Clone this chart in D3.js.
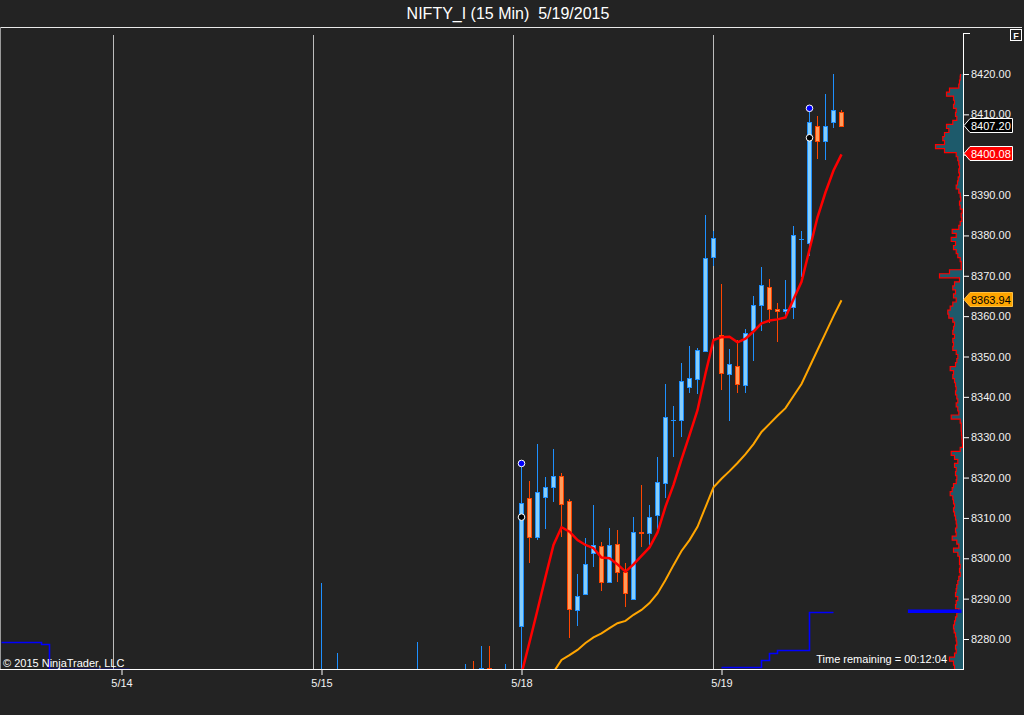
<!DOCTYPE html>
<html><head><meta charset="utf-8">
<script src="https://cdn.jsdelivr.net/npm/d3@7/dist/d3.min.js"></script>
<style>
body{margin:0;background:#232323;overflow:hidden}
svg{display:block}
text{font-family:"Liberation Sans",Arial,sans-serif}
</style></head>
<body><svg id="c" width="1024" height="715"></svg>
<script>
// ---------------- DATA ----------------
const chartTitle = "NIFTY_I (15 Min)  5/19/2015";
const dayLabels = ["5/14", "5/15", "5/18", "5/19"];
const dayStartIndex = [15, 40, 65, 90];
const sessionBreakIndex = [14, 39, 64, 89];
const yTickValues = [8280, 8290, 8300, 8310, 8320, 8330, 8340, 8350, 8360, 8370, 8380, 8390, 8400, 8410, 8420];

// bars (15 min), index = bar slot from left edge
const barIndex = [40, 42, 52, 58, 59, 60, 61, 63,
  65, 66, 67, 68, 69, 70, 71, 72, 73, 74, 75, 76, 77, 78, 79, 80, 81, 82, 83, 84, 85, 86, 87, 88, 89,
  90, 91, 92, 93, 94, 95, 96, 97, 98, 99, 100, 101, 102, 103, 104, 105];
const barOpen = [8255, 8262, 8264, 8266, 8271, 8266, 8272.8, 8265,
  8283.1, 8314.9, 8305.2, 8315.1, 8317.6, 8320.4, 8314.2, 8287.1, 8291.1, 8301.2, 8303.1, 8294.2, 8303.5, 8296.7, 8289.8, 8306.6, 8306.2, 8310.7, 8318.6, 8334.2, 8334.2, 8342.4, 8344.4, 8351.4, 8374.6,
  8355.3, 8345.6, 8347.7, 8342.9, 8356.6, 8362.7, 8367.2, 8361.7, 8361.2, 8362.2, 8379.2, 8378.1, 8407.1, 8403.5, 8408.0, 8410.7];
const barHigh = [8294.0, 8276.6, 8279.3, 8273.8, 8274.6, 8278.3, 8278.3, 8273.8,
  8323.5, 8319.2, 8328.3, 8320.2, 8327.1, 8321.2, 8314.6, 8296.1, 8305.0, 8313.2, 8304.1, 8307.4, 8307.0, 8298.9, 8310.2, 8318.2, 8313.2, 8325.0, 8343.2, 8337.7, 8348.4, 8352.6, 8352.1, 8385.1, 8381.2,
  8368.0, 8351.9, 8354.1, 8356.8, 8365.0, 8372.2, 8369.2, 8363.3, 8369.0, 8382.3, 8381.1, 8411.5, 8409.5, 8415.0, 8420.1, 8411.2];
const barLow = [8250, 8256, 8258, 8262, 8265, 8262, 8260, 8262,
  8268.0, 8298.8, 8304.5, 8307.2, 8314.0, 8305.2, 8280.2, 8283.1, 8291.0, 8297.9, 8292.0, 8294.0, 8294.2, 8287.9, 8289.6, 8302.7, 8303.3, 8307.2, 8315.0, 8325.0, 8330.1, 8340.9, 8340.6, 8351.0, 8372.5,
  8341.7, 8334.1, 8341.0, 8341.0, 8349.0, 8356.2, 8358.2, 8353.7, 8359.9, 8359.2, 8369.6, 8374.9, 8398.9, 8398.8, 8406.5, 8406.9];
const barClose = [8262, 8268, 8270, 8270, 8267, 8272.8, 8265, 8270,
  8313.6, 8305.2, 8316.4, 8317.6, 8320.4, 8313.4, 8287.4, 8290.7, 8298.5, 8303.2, 8294.2, 8303.2, 8296.5, 8291.5, 8306.6, 8306.2, 8310.3, 8319.0, 8335.1, 8334.2, 8343.9, 8344.6, 8351.5, 8374.3, 8379.3,
  8346.0, 8348.1, 8343.1, 8355.8, 8362.7, 8367.6, 8361.7, 8361.2, 8361.7, 8380.1, 8379.2, 8408.1, 8403.5, 8407.2, 8411.2, 8407.2];

// fast moving average (red)
const fastMAIndex = d3.range(65, 106);
const fastMA = [8271.4, 8279.2, 8287.2, 8295.4, 8303.3, 8307.7, 8306.6, 8304.5, 8303.3, 8302.5, 8300.2, 8300.0, 8298.5, 8296.7, 8298.5, 8300.6, 8302.7, 8306.4, 8312.8, 8318.2, 8324.5, 8330.5, 8336.7, 8345.8, 8354.1,
  8354.8, 8354.9, 8353.5, 8354.4, 8356.2, 8358.2, 8358.9, 8359.2, 8359.7, 8364.2, 8368.5, 8376.5, 8384.5, 8390.7, 8396.1, 8400.08];
// slow moving average (orange)
const slowMAIndex = d3.range(69, 106);
const slowMA = [8271.8, 8274.8, 8276.0, 8277.3, 8279.0, 8280.4, 8281.4, 8282.7, 8283.9, 8284.5, 8286.0, 8287.2, 8288.9, 8291.3, 8294.6, 8298.3, 8301.8, 8304.5, 8307.8, 8312.7, 8317.6,
  8319.7, 8321.6, 8323.6, 8325.8, 8328.3, 8331.3, 8333.3, 8335.3, 8337.2, 8340.2, 8343.2, 8347.4, 8351.6, 8355.8, 8360.0, 8363.94];

// blue step indicator
const stepLeft = [[0, 8279.3], [5, 8278.8], [6, 8272.6], [16, 8272.6]];
const stepRight = [[90, 8273.1], [95, 8274.8], [96, 8276.6], [97, 8277.2], [101, 8286.7], [104, 8286.7]];
const thickLine = [[113.3, 8286.9], [120, 8286.9]];

// swing markers
const blueDots = [[65, 8323.5], [101, 8411.5]];
const blackDots = [[65, 8310.2], [101, 8404.2]];

// volume profile: price levels (top to bottom) and volume
const profileTop = 8420, profileBottom = 8271;
const profileVolume = [2, 2.3, 3, 3.7, 13, 16, 9, 8, 9, 6.3, 7, 5.7, 9.7, 16, 13.7, 18, 19.7, 18, 27, 18,
  6.3, 4.7, 3.7, 3, 3.7, 3, 4.3, 5, 6.3, 3.7, 2.3, 1.7, 3, 2.3, 0.3, 1.3, 0.7, 2.3, 3.7, 10.3,
  6.3, 11.3, 7, 9, 6.3, 4.7, 2.3, 1.3, 1.3, 13, 23, 3, 8, 9.7, 7, 9, 6.3, 9.7, 12.3, 14.7,
  13.7, 9.7, 8, 9, 9.7, 8, 9.7, 9, 9.7, 6.3, 4.7, 5.7, 7, 12.3, 9, 9.7, 8, 7, 6.3, 7,
  5.7, 4.7, 6.3, 4.7, 3.7, 11.3, 2.3, 1.3, 1.3, 1, 0.7, 0.3, 0, 2.3, 11.3, 8, 4.7, 8, 6.3, 7,
  5.7, 6.3, 9, 10.3, 12.3, 9.7, 9, 8, 9, 8, 7, 6.3, 5.7, 7, 6.3, 10.3, 5.7, 3.7, 9, 4.7,
  3, 3, 2.3, 3, 2.3, 3.7, 4.7, 5.7, 6.3, 7, 4.7, 6.3, 7, 3.7, 5.7, 7, 8, 9, 8.3, 7,
  6.3, 5.7, 7, 6.3, 8, 13, 9, 8, 7, 7];

// price markers on the axis
const lastPrice = 8407.20, fastLast = 8400.08, slowLast = 8363.94;

// ---------------- DRAW ----------------
const W = 1024, H = 715;
const PR = 963, PT = 28, PB = 669;
const svg = d3.select('#c');
svg.append('rect').attr('width', W).attr('height', H).attr('fill', '#232323');

const x = d3.scaleLinear().domain([0, 120]).range([1.5, 961.5]);
const y = d3.scaleLinear().domain([8280, 8420]).range([639, 74]);
const s = v => Math.round(v) + 0.5;

svg.append('text').attr('x', 508).attr('y', 19).attr('text-anchor', 'middle')
  .attr('fill', '#ffffff').attr('font-size', 16).style('white-space', 'pre').text(chartTitle);
svg.append('line').attr('x1', 0).attr('x2', 1022).attr('y1', 27.5).attr('y2', 27.5).attr('stroke', '#e8e8e8');
svg.append('line').attr('x1', 0.5).attr('x2', 0.5).attr('y1', 27).attr('y2', 669).attr('stroke', '#9a9a9a');

const defs = svg.append('defs');
defs.append('clipPath').attr('id', 'pc').append('rect').attr('x', 1).attr('y', PT).attr('width', PR - 1).attr('height', PB - PT);
const g = svg.append('g').attr('clip-path', 'url(#pc)');

// session break lines
g.selectAll('.sess').data(sessionBreakIndex).join('line')
  .attr('x1', d => x(d)).attr('x2', d => x(d)).attr('y1', 35).attr('y2', PB)
  .attr('stroke', '#bcbcbc').attr('stroke-width', 1);

// volume profile (rotated so the curve steps along price)
const prof = profileVolume.map((v, i) => ({ p: profileTop - i, v }));
const wScale = d3.scaleLinear().domain([0, 27]).range([0, 27]);
const pg = g.append('g').attr('transform', `matrix(0,1,-1,0,${PR},0)`);
pg.append('path').datum(prof)
  .attr('d', d3.area().x(d => y(d.p)).y0(0).y1(d => wScale(d.v) + 0.5).curve(d3.curveStep))
  .attr('fill', '#1d5a6b');
pg.append('path').datum(prof)
  .attr('d', d3.line().x(d => y(d.p)).y(d => wScale(d.v) + 0.5).curve(d3.curveStep))
  .attr('fill', 'none').attr('stroke', '#ff0000').attr('stroke-width', 1.2);

// candles
const bars = barIndex.map((i, k) => ({ i, o: barOpen[k], h: barHigh[k], l: barLow[k], c: barClose[k] }));
const upStroke = '#1e90ff', upFill = '#87cefa', dnStroke = '#ff4500', dnFill = '#ff9c5b';
const cg = g.append('g');
bars.forEach(b => {
  const up = b.c >= b.o;
  const st = up ? upStroke : dnStroke, fl = up ? upFill : dnFill;
  const cx = x(b.i);
  cg.append('line').attr('x1', cx).attr('x2', cx).attr('y1', Math.round(y(b.h))).attr('y2', Math.round(y(b.l)))
    .attr('stroke', st).attr('stroke-width', 1);
  const top = Math.round(y(Math.max(b.o, b.c))), bot = Math.round(y(Math.min(b.o, b.c)));
  if (bot - top < 1) {
    cg.append('line').attr('x1', cx - 2.5).attr('x2', cx + 2.5).attr('y1', top + 0.5).attr('y2', top + 0.5)
      .attr('stroke', st).attr('stroke-width', 1);
  } else {
    cg.append('rect').attr('x', cx - 2).attr('width', 4).attr('y', top + 0.5).attr('height', bot - top)
      .attr('fill', fl).attr('stroke', st).attr('stroke-width', 1);
  }
});

// moving averages
const lineGen = d3.line().x(d => x(d[0])).y(d => y(d[1]));
g.append('path').datum(slowMAIndex.map((i, k) => [i, slowMA[k]]))
  .attr('d', lineGen).attr('fill', 'none').attr('stroke', '#ffa500').attr('stroke-width', 2);
g.append('path').datum(fastMAIndex.map((i, k) => [i, fastMA[k]]))
  .attr('d', lineGen).attr('fill', 'none').attr('stroke', '#ff0000').attr('stroke-width', 2.5);

// blue step indicator
const stepGen = d3.line().x(d => x(d[0])).y(d => s(y(d[1]))).curve(d3.curveStepAfter);
[stepLeft, stepRight].forEach(arr => {
  g.append('path').datum(arr).attr('d', stepGen).attr('fill', 'none').attr('stroke', '#0000ff').attr('stroke-width', 1.6);
});
g.append('path').datum(thickLine).attr('d', d3.line().x(d => x(d[0])).y(d => y(d[1])))
  .attr('stroke', '#0000ff').attr('stroke-width', 3.5).attr('fill', 'none');

// markers
g.selectAll('.bd').data(blueDots).join('circle').attr('cx', d => x(d[0])).attr('cy', d => y(d[1])).attr('r', 3.3)
  .attr('fill', '#0000ff').attr('stroke', '#ffffff').attr('stroke-width', 1);
g.selectAll('.kd').data(blackDots).join('circle').attr('cx', d => x(d[0])).attr('cy', d => y(d[1])).attr('r', 3.3)
  .attr('fill', '#000000').attr('stroke', '#ffffff').attr('stroke-width', 1);

// texts in plot
svg.append('text').attr('x', 3).attr('y', 667).attr('fill', '#ffffff').attr('font-size', 11).text('\u00a9 2015 NinjaTrader, LLC');
svg.append('text').attr('x', 947).attr('y', 663).attr('text-anchor', 'end').attr('fill', '#ffffff').attr('font-size', 11).text('Time remaining = 00:12:04');

// right axis
const ya = svg.append('g').attr('transform', `translate(${PR},0)`)
  .call(d3.axisRight(y).tickValues(yTickValues).tickFormat(d3.format('.2f')).tickSize(6).tickPadding(2));
ya.select('.domain').remove();
ya.selectAll('line').attr('stroke', '#ffffff');
ya.selectAll('text').attr('fill', '#f2f2f2').attr('font-size', 11).attr('font-family', '"Liberation Sans",Arial,sans-serif');
svg.append('line').attr('x1', PR + 0.5).attr('x2', PR + 0.5).attr('y1', 33).attr('y2', PB + 1).attr('stroke', '#ffffff');
svg.append('line').attr('x1', PR).attr('x2', PR + 7).attr('y1', 33.5).attr('y2', 33.5).attr('stroke', '#ffffff');

// bottom axis
const xa = svg.append('g').attr('transform', `translate(0,${PB})`)
  .call(d3.axisBottom(x).tickValues(dayStartIndex).tickFormat((d, i) => dayLabels[i]).tickSize(6).tickPadding(4));
xa.select('.domain').remove();
xa.selectAll('line').attr('stroke', '#ffffff');
xa.selectAll('text').attr('fill', '#f2f2f2').attr('font-size', 11).attr('font-family', '"Liberation Sans",Arial,sans-serif');
svg.append('line').attr('x1', 0).attr('x2', PR + 1).attr('y1', PB + 0.5).attr('y2', PB + 0.5).attr('stroke', '#ffffff');

// price markers
function marker(v, fill, stroke, color) {
  const yc = Math.round(y(v)) - 0.5;
  const p = `M${PR + 1},${yc} L${PR + 7},${yc - 7} L1012.5,${yc - 7} L1012.5,${yc + 7} L${PR + 7},${yc + 7} Z`;
  svg.append('path').attr('d', p).attr('fill', fill).attr('stroke', stroke).attr('stroke-width', 1);
  svg.append('text').attr('x', 971).attr('y', yc + 4).attr('fill', color).attr('font-size', 11).text(d3.format('.2f')(v));
}
marker(lastPrice, '#000000', '#ffffff', '#ffffff');
marker(fastLast, '#ff0000', '#ffffff', '#ffffff');
marker(slowLast, '#ffa500', '#ffc040', '#000000');

// F box
svg.append('rect').attr('x', 1010.5).attr('y', 29.5).attr('width', 11).attr('height', 11).attr('fill', '#232323').attr('stroke', '#ffffff');
svg.append('text').attr('x', 1016).attr('y', 38.5).attr('text-anchor', 'middle').attr('fill', '#ffffff')
  .attr('font-size', 9).attr('font-weight', 'bold').text('F');
</script>
</body></html>
